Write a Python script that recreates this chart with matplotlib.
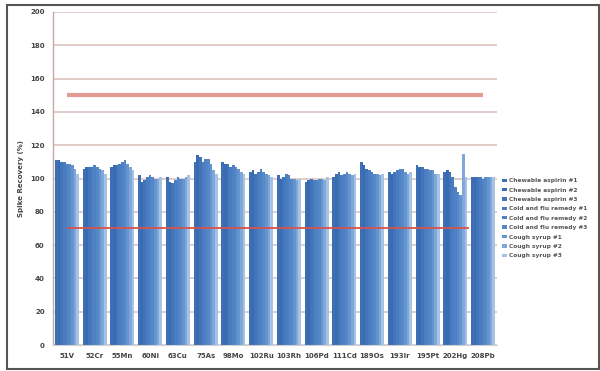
import numpy as np
import matplotlib
matplotlib.use("Agg")
import matplotlib.pyplot as plt
from matplotlib.patches import Rectangle

elements = ["51V", "52Cr", "55Mn", "60Ni", "63Cu", "75As", "98Mo", "102Ru",
            "103Rh", "106Pd", "111Cd", "189Os", "193Ir", "195Pt", "202Hg", "208Pb"]

samples = ["Chewable aspirin #1", "Chewable aspirin #2", "Chewable aspirin #3",
           "Cold and flu remedy #1", "Cold and flu remedy #2", "Cold and flu remedy #3",
           "Cough syrup #1", "Cough syrup #2", "Cough syrup #3"]

# spike recovery (%) per element, one column per sample
recovery = [
    [111, 111, 110, 110, 109, 109, 108, 106, 103],  # 51V
    [106, 107, 107, 107, 108, 107, 106, 105, 103],  # 52Cr
    [107, 108, 108, 109, 110, 111, 109, 107, 105],  # 55Mn
    [102, 98, 99, 101, 102, 101, 100, 100, 101],    # 60Ni
    [101, 98, 97, 99, 101, 100, 100, 101, 102],     # 63Cu
    [110, 114, 113, 110, 112, 112, 109, 105, 103],  # 75As
    [110, 109, 109, 107, 108, 107, 106, 104, 103],  # 98Mo
    [104, 105, 103, 104, 106, 104, 103, 102, 101],  # 102Ru
    [102, 100, 101, 103, 102, 100, 100, 99, 100],   # 103Rh
    [98, 99, 100, 99, 99, 100, 100, 99, 101],       # 106Pd
    [101, 103, 104, 102, 103, 104, 103, 102, 103],  # 111Cd
    [110, 108, 106, 105, 104, 103, 103, 102, 103],  # 189Os
    [104, 103, 104, 105, 106, 106, 104, 103, 104],  # 193Ir
    [108, 107, 107, 106, 106, 105, 105, 103, 103],  # 195Pt
    [104, 105, 104, 101, 95, 92, 90, 115, 101],     # 202Hg
    [101, 101, 101, 101, 100, 101, 101, 101, 101],  # 208Pb
]

upper_limit = 150
lower_limit = 70

W, H = 600, 371
fig = plt.figure(figsize=(W / 100, H / 100), dpi=100)
fig.patch.set_facecolor("white")

ax = fig.add_axes([53 / W, 1 - 345 / H, (497 - 53) / W, (345 - 12) / H])

data = np.array(recovery, dtype=float)
n_el, n_s = data.shape
x = np.arange(n_el)
group_w = 0.86
bw = group_w / n_s

bar_colors = ["#3d6fb4", "#3a6bb0", "#4274b9", "#4a7cc0", "#4f82c4",
              "#5688c8", "#6595cf", "#7ea8da", "#a6c3e6"]

for j in range(n_s):
    ax.bar(x - group_w / 2 + (j + 0.5) * bw, data[:, j], width=bw,
           color=bar_colors[j], edgecolor="none", label=samples[j], zorder=2)

# acceptance limits
ax.plot([x[0], x[-1]], [upper_limit, upper_limit], color="#e08a80",
        lw=3, alpha=0.85, solid_capstyle="butt", zorder=3)
ax.plot([x[0], x[-1] - 0.5], [lower_limit, lower_limit], color="#d9534a",
        lw=1.3, solid_capstyle="butt", zorder=3)

ax.set_xlim(-0.5, n_el - 0.5)
ax.set_ylim(0, 200)
ax.set_yticks(np.arange(0, 201, 20))
ax.set_yticklabels([str(v) for v in range(0, 201, 20)])
ax.set_xticks(x)
ax.set_xticklabels(elements)

ax.grid(axis="y", color="#dcc4c0", lw=1.2, zorder=0)
ax.set_axisbelow(True)
ax.tick_params(axis="both", length=0, labelsize=5, colors="#444444", pad=6)
for lbl in ax.get_xticklabels() + ax.get_yticklabels():
    lbl.set_fontweight("bold")

for s in ["top", "right"]:
    ax.spines[s].set_visible(False)
ax.spines["left"].set_color("#c9a7a2")
ax.spines["left"].set_linewidth(1.0)
ax.spines["bottom"].set_color("#d0d0d0")
ax.spines["bottom"].set_linewidth(0.8)

ax.set_ylabel("Spike Recovery (%)", fontsize=5, fontweight="bold",
              color="#444444", labelpad=4)

leg = ax.legend(loc="upper left", bbox_to_anchor=(500 / W, 1 - 176 / H),
                bbox_transform=fig.transFigure, frameon=False, fontsize=4.2,
                handlelength=0.8, handleheight=0.5, handletextpad=0.3,
                labelspacing=0.75, borderaxespad=0)
for t in leg.get_texts():
    t.set_color("#555555")
    t.set_fontweight("bold")

# outer frame
fig.patches.append(Rectangle((7 / W, 2 / H), (W - 8) / W, (H - 7) / H,
                             transform=fig.transFigure, fill=False,
                             edgecolor="#555555", lw=1.5))

fig.savefig("out.png", dpi=100)
